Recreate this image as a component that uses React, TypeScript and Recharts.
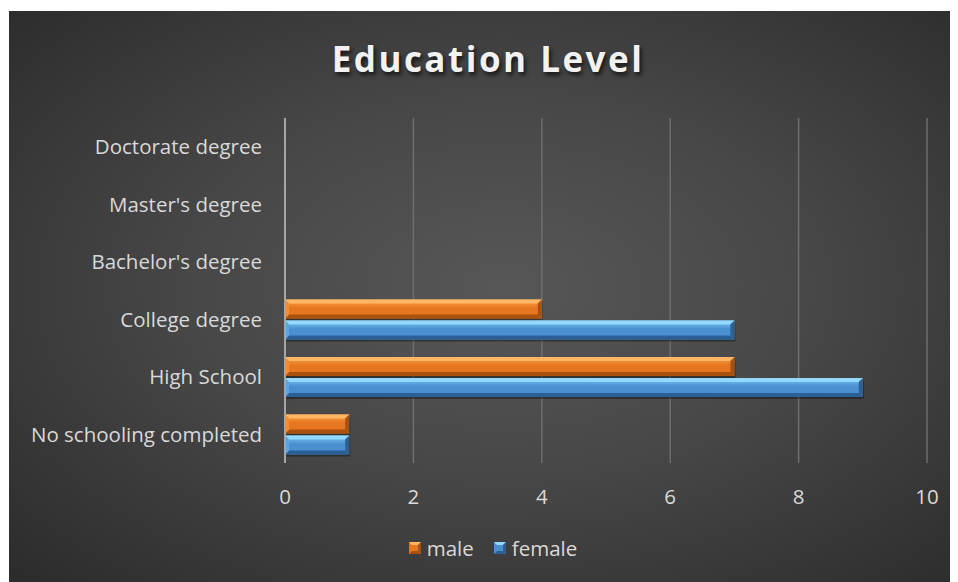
import { BarChart, Bar, XAxis, YAxis, CartesianGrid, Legend } from 'recharts'

const categories = [
  'Doctorate degree',
  "Master's degree",
  "Bachelor's degree",
  'College degree',
  'High School',
  'No schooling completed',
]
const male = [0, 0, 0, 4, 7, 1]
const female = [0, 0, 0, 7, 9, 1]
const xTicks = [0, 2, 4, 6, 8, 10]

const data = categories.map((name, i) => ({ name, male: male[i], female: female[i] }))

const font = '"Open Sans", sans-serif'
const textColor = '#d9d9d9'

const palette: Record<string, { base: string; light: string; top: string; dark: string; side: string }> = {
  male: { base: '#e6761f', light: '#f9a449', top: '#ffb766', dark: '#a9510f', side: '#f08d34' },
  female: { base: '#4a90d0', light: '#7cc8f4', top: '#92d8ff', dark: '#2b5f96', side: '#5aa6e2' },
}

function BevelBar(props: any) {
  const { x, y, width, height, dataKey } = props
  if (!width || width <= 0) return null
  const c = palette[dataKey]
  const b = Math.min(4, width / 2, height / 2)
  const gid = `face-${dataKey}`
  return (
    <g>
      <defs>
        <linearGradient id={gid} x1="0" y1="0" x2="0" y2="1">
          <stop offset="0%" stopColor={c.light} />
          <stop offset="45%" stopColor={c.base} />
          <stop offset="100%" stopColor={c.base} />
        </linearGradient>
      </defs>
      <rect x={x + 1} y={y + 2} width={width} height={height} fill="rgba(0,0,0,0.35)" />
      <rect x={x} y={y} width={width} height={height} fill={`url(#${gid})`} />
      <polygon points={`${x},${y} ${x + width},${y} ${x + width - b},${y + b} ${x + b},${y + b}`} fill={c.top} />
      <polygon points={`${x},${y + height} ${x + width},${y + height} ${x + width - b},${y + height - b} ${x + b},${y + height - b}`} fill={c.dark} />
      <polygon points={`${x},${y} ${x + b},${y + b} ${x + b},${y + height - b} ${x},${y + height}`} fill={c.side} />
      <polygon points={`${x + width},${y} ${x + width - b},${y + b} ${x + width - b},${y + height - b} ${x + width},${y + height}`} fill={c.dark} />
    </g>
  )
}

function LegendSwatch({ k }: { k: string }) {
  const c = palette[k]
  const s = 12
  const b = 3
  return (
    <svg width={s} height={s} style={{ marginRight: 6 }}>
      <rect x={0} y={0} width={s} height={s} fill={c.base} />
      <polygon points={`0,0 ${s},0 ${s - b},${b} ${b},${b}`} fill={c.top} />
      <polygon points={`0,${s} ${s},${s} ${s - b},${s - b} ${b},${s - b}`} fill={c.dark} />
      <polygon points={`${s},0 ${s - b},${b} ${s - b},${s - b} ${s},${s}`} fill={c.dark} />
    </svg>
  )
}

function renderLegend() {
  return (
    <div style={{ display: 'flex', justifyContent: 'center', gap: 20, fontFamily: font, fontSize: 20.5, color: textColor, lineHeight: '26px' }}>
      {['male', 'female'].map(k => (
        <span key={k} style={{ display: 'flex', alignItems: 'center' }}>
          <LegendSwatch k={k} />
          {k}
        </span>
      ))}
    </div>
  )
}

export default function App() {
  return (
    <div
      style={{
        position: 'relative',
        width: 950,
        height: 574,
        marginTop: 3,
        marginLeft: 1,
        background: 'radial-gradient(ellipse at 52% 48%, #575757 0%, #474747 45%, #2b2b2b 100%)',
      }}
    >
      <div
        style={{
          position: 'absolute',
          top: 24,
          left: 0,
          width: 958,
          textAlign: 'center',
          fontFamily: font,
          fontWeight: 700,
          fontSize: 35,
          letterSpacing: 2.5,
          color: '#f2f2f2',
          textShadow: '2px 3px 4px rgba(0,0,0,0.7)',
        }}
      >
        Education Level
      </div>
      <BarChart
        width={950}
        height={574}
        data={data}
        layout="vertical"
        margin={{ top: 107, right: 32, left: 0, bottom: 36 }}
        barSize={19}
        barGap={2}
      >
        <CartesianGrid horizontal={false} stroke="#6e6e6e" strokeWidth={1.5} />
        <XAxis
          type="number"
          domain={[0, 10]}
          ticks={xTicks}
          axisLine={false}
          tickLine={false}
          tickMargin={20}
          height={60}
          tick={{ fill: textColor, fontSize: 20.5, fontFamily: font }}
        />
        <YAxis
          type="category"
          dataKey="name"
          width={276}
          axisLine={{ stroke: '#a6a6a6', strokeWidth: 2 }}
          tickLine={false}
          tickMargin={17}
          tick={{ fill: textColor, fontSize: 20.5, fontFamily: font }}
        />
        <Legend content={renderLegend} verticalAlign="bottom" wrapperStyle={{ bottom: 24, left: 25 }} />
        <Bar dataKey="male" shape={<BevelBar />} isAnimationActive={false} />
        <Bar dataKey="female" shape={<BevelBar />} isAnimationActive={false} />
      </BarChart>
    </div>
  )
}
